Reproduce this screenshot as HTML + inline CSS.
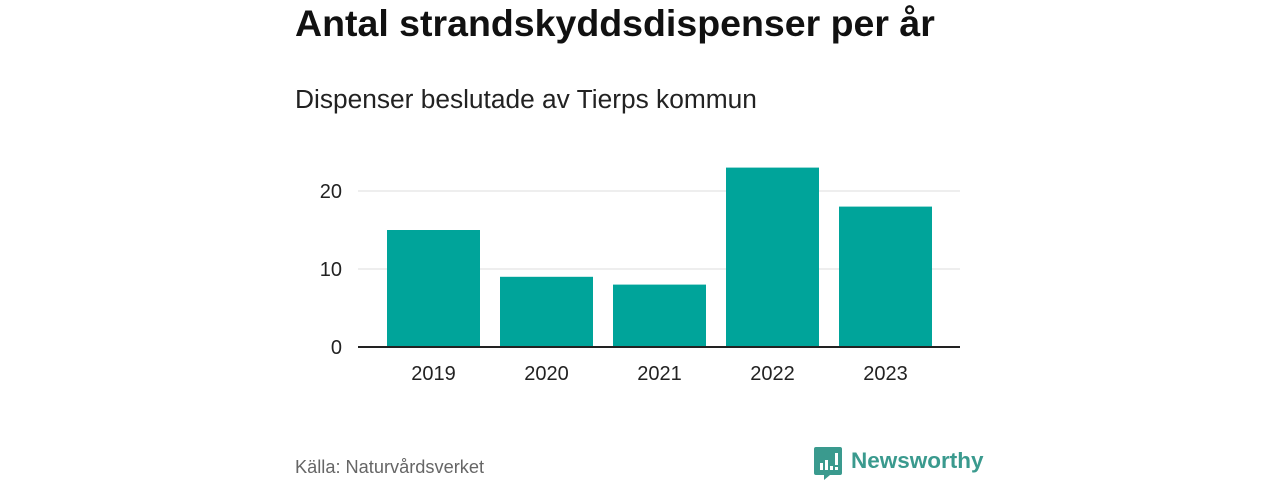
<!DOCTYPE html>
<html><head><meta charset="utf-8"><style>
body{margin:0;width:1280px;height:480px;background:#fff;font-family:"Liberation Sans",sans-serif;overflow:hidden;position:relative}
.t{position:absolute;left:295px;top:2px;font-size:37.5px;font-weight:bold;color:#111;white-space:nowrap}
.s{position:absolute;left:295px;top:84px;font-size:26.3px;color:#222;white-space:nowrap}
.src{position:absolute;left:295px;top:457px;font-size:18.2px;color:#666;white-space:nowrap}
.logo{position:absolute;left:851px;top:448px;font-size:22.5px;font-weight:bold;color:#3a9a8e}
</style></head><body>
<div class="t">Antal strandskyddsdispenser per år</div>
<div class="s">Dispenser beslutade av Tierps kommun</div>
<div class="src">Källa: Naturvårdsverket</div>
<svg style="position:absolute;left:814px;top:447px" width="30" height="34">
<path d="M2 0h24a2 2 0 0 1 2 2v24a2 2 0 0 1-2 2H16l-6 5v-5H2a2 2 0 0 1-2-2V2a2 2 0 0 1 2-2z" fill="#3a9a8e"/>
<rect x="6" y="16" width="3" height="7" fill="#fff"/><rect x="11" y="13" width="3" height="10" fill="#fff"/><rect x="16" y="19" width="3" height="4" fill="#fff"/><rect x="21" y="6" width="3" height="12" fill="#fff"/><rect x="21" y="20" width="3" height="3" fill="#fff"/>
</svg>
<div class="logo">Newsworthy</div>
<svg id="c" width="1280" height="480" style="position:absolute;left:0;top:0"></svg>
<script>
const categories=["2019","2020","2021","2022","2023"];
const values=[15,9,8,23,18];
const yTicks=[0,10,20];
const svg=document.getElementById('c');const NS='http://www.w3.org/2000/svg';
const x0=358,x1=960,y0=347,pxPerUnit=7.8;
const bandStart=377,step=113,bw=93;
const y=v=>y0-v*pxPerUnit;
const xc=i=>bandStart+step*i+step/2;
function mk(t,a){const e=document.createElementNS(NS,t);for(const k in a)e.setAttribute(k,a[k]);svg.appendChild(e);return e;}
yTicks.forEach(v=>{
 if(v>0){const g=mk('line',{x1:x0,x2:x1,y1:y(v),y2:y(v),stroke:'#ddd','stroke-width':1});
 
 }
 const t=mk('text',{x:342,y:y(v)+7,'text-anchor':'end','font-size':20,fill:'#222','font-family':'Liberation Sans'});t.textContent=v;
 
 
});
values.forEach((v,i)=>{
 const r=mk('rect',{x:xc(i)-bw/2,y:y(v),width:bw,height:v*pxPerUnit,fill:'#00a49a'});
 
 
 const t=mk('text',{x:xc(i),y:380,'text-anchor':'middle','font-size':20,fill:'#222','font-family':'Liberation Sans'});t.textContent=categories[i];
 
 
});
const ax=mk('line',{x1:x0,x2:x1,y1:y0,y2:y0,stroke:'#222','stroke-width':2});


</script>
</body></html>
